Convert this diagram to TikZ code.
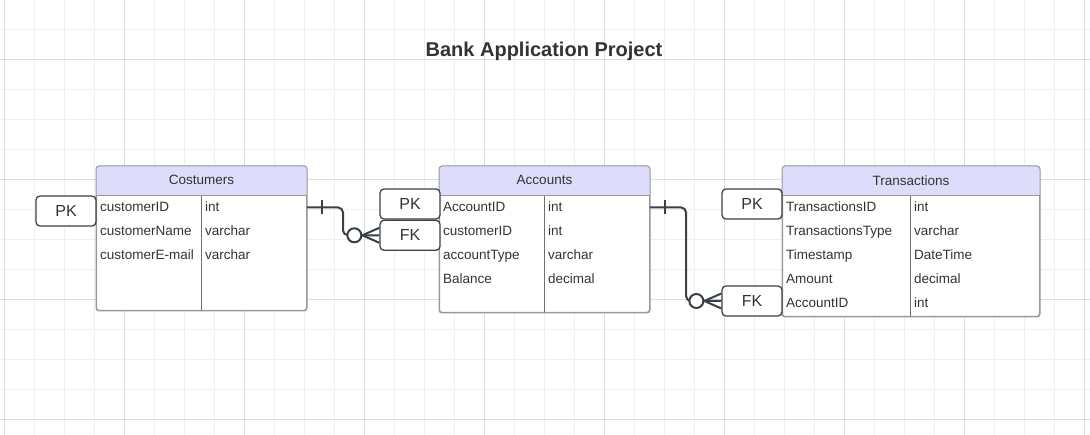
\documentclass[tikz,border=0pt]{standalone}
\usepackage{fontspec}
\setmainfont{Liberation Sans}
\usepackage{tikz}
\usetikzlibrary{positioning}
\definecolor{gridLight}{HTML}{EFEFEF}
\definecolor{gridDark}{HTML}{DDDDDD}
\definecolor{headerBlue}{HTML}{DDDDFB}
\definecolor{tableGray}{HTML}{999999}
\definecolor{dividerGray}{HTML}{6E6E6E}
\definecolor{keyGray}{HTML}{3D434B}
\definecolor{relGray}{HTML}{3A4048}
\definecolor{textGray}{HTML}{333333}
\newcommand{\cellFont}{\fontsize{13.5}{16}\selectfont}
\newcommand{\keyFont}{\fontsize{16}{19}\selectfont}
\newcommand\headerHeight{30}
\newcommand\rowSpacing{24}
\tikzset{
		minorGrid/.style = {draw=gridLight, line width=1pt},
		majorGrid/.style = {draw=gridDark, line width=1pt},
		tableStyle/.style = {draw=tableGray, fill=white, rounded corners=3pt, line width=1pt, anchor=north west, inner sep=0pt},
		headerStyle/.style = {anchor=north, minimum height=\headerHeight pt, inner sep=0pt, font=\cellFont, text=textGray},
		cellStyle/.style = {anchor=base west, inner sep=0pt, font=\cellFont, text=textGray},
		keyStyle/.style = {draw=keyGray, fill=white, rounded corners=4pt, line width=1.3pt, minimum width=60pt, minimum height=30pt, inner sep=0pt, font=\keyFont, text=textGray},
		relStyle/.style = {draw=relGray, line width=2pt},
		titleStyle/.style = {font=\bfseries\fontsize{20}{24}\selectfont, text=textGray}
}
\newcommand{\drawTable}[7]{
    % #1 name, #2/#3 top left, #4 width, #5 height, #6 divider, #7 title
    \node[tableStyle, minimum width=#4pt, minimum height=#5pt] (#1Table) at (#2,#3) {};
    \begin{scope}
      \clip[rounded corners=3pt] (#1Table.north west) rectangle (#1Table.south east);
      \fill[headerBlue] (#1Table.north west) rectangle ([yshift=-\headerHeight pt]#1Table.north east);
    \end{scope}
    \node[headerStyle, minimum width=#4pt] (#1Head) at ([yshift=1pt]#1Table.north) {#7};
    \draw[tableGray, line width=1pt] ([yshift=-\headerHeight pt]#1Table.north west) -- ([yshift=-\headerHeight pt]#1Table.north east);
    \draw[dividerGray, line width=1pt] ([xshift=#6pt,yshift=-\headerHeight pt]#1Table.north west) -- ([xshift=#6pt]#1Table.south west);
    \draw[tableGray, line width=1pt, rounded corners=3pt] (#1Table.north west) rectangle (#1Table.south east);
}
\newcommand{\oneMark}[1]{
    \draw[relStyle] ([xshift=15pt,yshift=7pt]#1) -- ([xshift=15pt,yshift=-7pt]#1);
}
\newcommand{\manyMark}[1]{
    \draw[relStyle] ([xshift=-17pt]#1.west) -- ([yshift=7.5pt]#1.west);
    \draw[relStyle] ([xshift=-17pt]#1.west) -- ([yshift=-7.5pt]#1.west);
    \draw[relStyle, fill=white] ([xshift=-25pt]#1.west) circle[radius=7pt];
}
\begin{document}
\begin{tikzpicture}[x=1pt, y=-1pt]
  \useasboundingbox[fill=white] (0,0) rectangle (1090,435);

  % Draw background grid
  \foreach \x in {4,34,...,1084}
    \draw[minorGrid] (\x,0) -- (\x,435);
  \foreach \y in {0,30,...,420}
    \draw[minorGrid] (0,\y) -- (1090,\y);
  \foreach \x in {4,124,...,1084}
    \draw[majorGrid] (\x,0) -- (\x,435);
  \foreach \y in {60,180,...,420}
    \draw[majorGrid] (0,\y) -- (1090,\y);

  \node[titleStyle] (title) at (544,51) {Bank Application Project};

  % Draw tables
  \drawTable{cust}{96}{166}{210}{144}{105}{Costumers}
  \drawTable{acc}{439}{166}{210}{146}{105}{Accounts}
  \drawTable{trans}{782}{166}{257}{150}{128}{Transactions}

  % Draw columns
  \foreach \colName/\colType [count=\i] in {customerID/int, customerName/varchar, customerE-mail/varchar}
    {\node[cellStyle] (cust\i) at (100,188+\rowSpacing*\i) {\colName};
     \node[cellStyle] (custType\i) at (205,188+\rowSpacing*\i) {\colType};}
  \foreach \colName/\colType [count=\i] in {AccountID/int, customerID/int, accountType/varchar, Balance/decimal}
    {\node[cellStyle] (acc\i) at (443,188+\rowSpacing*\i) {\colName};
     \node[cellStyle] (accType\i) at (548,188+\rowSpacing*\i) {\colType};}
  \foreach \colName/\colType [count=\i] in {TransactionsID/int, TransactionsType/varchar, Timestamp/DateTime, Amount/decimal, AccountID/int}
    {\node[cellStyle] (trans\i) at (786,188+\rowSpacing*\i) {\colName};
     \node[cellStyle] (transType\i) at (914,188+\rowSpacing*\i) {\colType};}

  % Draw key boxes
  \node[keyStyle] (custPK) at (66,211) {PK};
  \node[keyStyle] (accPK) at (410,204) {PK};
  \node[keyStyle, below=0pt of accPK] (accFK) {FK};
  \node[keyStyle] (transPK) at (752,204) {PK};
  \node[keyStyle] (transFK) at (752,301) {FK};

  % Draw relations
  \coordinate (custOut) at (custTable.east |- cust1);
  \coordinate (accOut) at (accTable.east |- acc1);
  \draw[relStyle, rounded corners=5pt] (custOut) -- ++(36,0) |- (accFK.west);
  \draw[relStyle, rounded corners=5pt] (accOut) -- ++(36,0) |- (transFK.west);
  \oneMark{custOut}
  \oneMark{accOut}
  \manyMark{accFK}
  \manyMark{transFK}
\end{tikzpicture}
\end{document}
